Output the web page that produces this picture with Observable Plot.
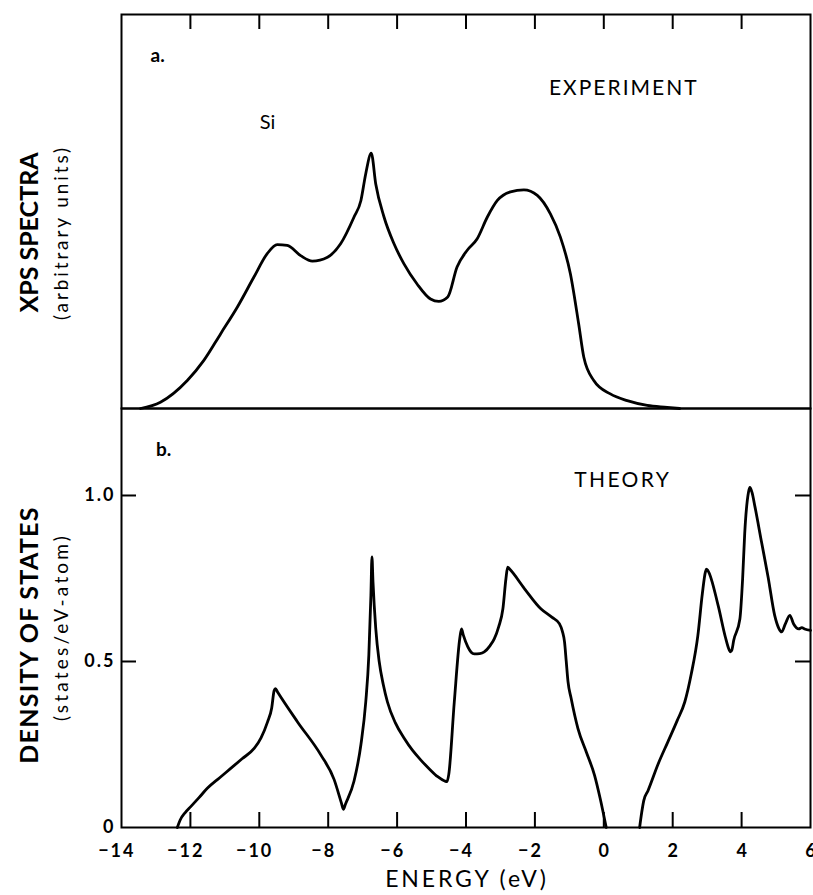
<!DOCTYPE html>
<html>
<head>
<meta charset="utf-8">
<script src="https://cdn.jsdelivr.net/npm/d3@7"></script>
<script src="https://cdn.jsdelivr.net/npm/@observablehq/plot@0.6"></script>
<style>
  html, body { margin: 0; padding: 0; background: #fff; }
  #chart { width: 813px; }
  #chart svg { display: block; }
</style>
</head>
<body>
<div id="chart"></div>
<script>
// ---- Data ----
const xTicksTwoDigitNeg = [-14, -12, -10];
const xTicksOneDigitNeg = [-8, -6, -4, -2];
const xTicksNonNeg = [0, 2, 4, 6];
const xInnerTicks = [-12, -10, -8, -6, -4, -2, 0, 2, 4];
const yTickValues = [0, 0.5, 1.0];
const yInnerTicks = [0.5, 1.0];

// (a) XPS experiment, arbitrary units (0..100 of panel height)
const xpsEnergy = [-13.45, -12.87, -12.09, -11.61, -11.12, -10.64, -10.16, -9.77, -9.48, -9.19,
  -8.80, -8.46, -8.02, -7.64, -7.25, -7.05, -6.91, -6.75, -6.62, -6.38, -6.09, -5.80, -5.42,
  -5.03, -4.79, -4.53, -4.26, -3.97, -3.68, -3.38, -3.09, -2.71, -2.32, -1.93, -1.55, -1.26,
  -0.97, -0.73, -0.58, -0.29, 0.19, 0.68, 1.26, 1.84, 2.2];
const xpsIntensity = [0, 1.6, 7.1, 12.2, 19.0, 25.7, 33.3, 39.3, 41.6, 41.4,
  38.8, 37.4, 38.4, 41.8, 48.6, 52.8, 59.6, 64.8, 57.0, 48.6, 41.8, 36.7, 31.6,
  27.8, 27.2, 28.3, 35.9, 40.1, 43.0, 48.6, 52.8, 55.0, 55.5, 54.1, 49.4, 43.5,
  34.2, 21.5, 13.0, 7.1, 3.7, 2.0, 0.8, 0.3, 0];

// (b) Theory, density of states (states/eV-atom) — valence band
const dosValenceEnergy = [-12.38, -12.3, -12.15, -11.99, -11.75, -11.51, -11.15, -10.83, -10.5,
  -10.15, -9.95, -9.76, -9.64, -9.57, -9.53, -9.47, -8.89, -8.21, -7.83, -7.62, -7.56, -7.50,
  -7.25, -7.05, -6.91, -6.82, -6.76, -6.73, -6.70, -6.62, -6.52, -6.40, -6.28, -6.05, -5.79,
  -5.55, -5.31, -5.05, -4.82, -4.62, -4.55, -4.50, -4.34, -4.18, -4.13, -4.08, -3.95, -3.85,
  -3.76, -3.60, -3.47, -3.30, -3.18, -3.05, -2.93, -2.84, -2.79, -2.74, -2.30, -1.82, -1.50,
  -1.29, -1.20, -1.14, -1.09, -1.04, -0.95, -0.75, -0.50, -0.27, -0.10, 0.07];
const dosValence = [0, 0.022, 0.045, 0.063, 0.09, 0.118, 0.15, 0.178, 0.207,
  0.238, 0.27, 0.318, 0.36, 0.412, 0.418, 0.408, 0.318, 0.218, 0.145, 0.075, 0.055, 0.07,
  0.14, 0.25, 0.378, 0.52, 0.70, 0.815, 0.74, 0.60, 0.50, 0.43, 0.378, 0.315, 0.268,
  0.232, 0.203, 0.175, 0.153, 0.14, 0.138, 0.16, 0.378, 0.57, 0.598, 0.58, 0.545, 0.528,
  0.523, 0.524, 0.529, 0.548, 0.568, 0.605, 0.658, 0.75, 0.784, 0.779, 0.719, 0.658, 0.633,
  0.614, 0.59, 0.559, 0.50, 0.44, 0.39, 0.298, 0.225, 0.158, 0.085, 0];
// conduction band
const dosConductionEnergy = [1.04, 1.10, 1.16, 1.28, 1.58, 1.86, 2.13, 2.35, 2.54, 2.73, 2.86,
  2.95, 2.98, 3.02, 3.32, 3.53, 3.64, 3.68, 3.72, 3.77, 3.95, 4.03, 4.09, 4.20, 4.24, 4.30,
  4.39, 4.58, 4.77, 4.96, 5.08, 5.16, 5.27, 5.40, 5.51, 5.66, 5.75, 5.83, 6.0];
const dosConduction = [0, 0.045, 0.081, 0.11, 0.192, 0.258, 0.322, 0.378, 0.463, 0.578, 0.704,
  0.77, 0.778, 0.774, 0.668, 0.573, 0.535, 0.529, 0.535, 0.563, 0.628, 0.75, 0.885, 1.01, 1.024, 1.01,
  0.965, 0.859, 0.754, 0.639, 0.60, 0.589, 0.613, 0.639, 0.613, 0.598, 0.602, 0.598, 0.594];

// ---- Tables built from the arrays ----
const xpsData = xpsEnergy.map((e, i) => ({energy: e, value: xpsIntensity[i]}));
const valData = dosValenceEnergy.map((e, i) => ({energy: e, value: dosValence[i]}));
const conData = dosConductionEnergy.map((e, i) => ({energy: e, value: dosConduction[i]}));

const FONT = "Lato, 'DejaVu Sans', sans-serif";
const W = 813, ML = 121, MR = 3;
const LINE_W = 2.8;
const TICK = 15;
const TICK_W = 2;
const HA = 408, MTA = 14;             // panel a: svg height, top margin
const HB = 487, MBB = 68;             // panel b: svg height, bottom margin
const frameHA = HA - MTA;             // 394
const frameHB = HB - MBB;             // 419
const frameW = W - ML - MR;           // 689

const panelA = Plot.plot({
  width: W, height: HA,
  marginLeft: ML, marginRight: MR, marginTop: MTA, marginBottom: 0,
  style: {fontFamily: FONT, background: "white", color: "black", overflow: "visible"},
  x: {domain: [-14, 6], axis: null},
  y: {domain: [0, 100], axis: null},
  marks: [
    Plot.line(xpsData, {x: "energy", y: "value", curve: "monotone-x", stroke: "black", strokeWidth: LINE_W}),
    Plot.ruleX(xInnerTicks, {stroke: "black", strokeWidth: TICK_W, insetBottom: frameHA - TICK}),
    Plot.frame({stroke: "black", strokeWidth: 2}),
    Plot.text(["a."], {x: -12.95, y: 89.6, fontSize: 19, fontWeight: "bold"}),
    Plot.text(["Si"], {x: -9.76, y: 72.6, fontSize: 20}),
    Plot.text(["EXPERIMENT"], {x: 0.58, y: 81.2, fontSize: 21}),
    Plot.text(["XPS SPECTRA"], {frameAnchor: "left", rotate: -90, textAnchor: "middle", lineAnchor: "middle",
      dx: -92, dy: 21, fontSize: 25, fontWeight: "bold"}),
    Plot.text(["(arbitrary units)"], {frameAnchor: "left", rotate: -90, textAnchor: "middle", lineAnchor: "middle",
      dx: -60, dy: 21, fontSize: 19})
  ]
});

const tickText = {anchor: "bottom", tickSize: 0, tickPadding: 17, fontSize: 18, fontWeight: "bold", label: null};

const panelB = Plot.plot({
  width: W, height: HB,
  marginLeft: ML, marginRight: MR, marginTop: 0, marginBottom: MBB,
  style: {fontFamily: FONT, background: "white", color: "black", overflow: "visible"},
  x: {domain: [-14, 6]},
  y: {domain: [0, 1.262]},
  marks: [
    Plot.axisX(xTicksTwoDigitNeg, {...tickText, textAnchor: "end", dx: 14}),
    Plot.axisX(xTicksOneDigitNeg, {...tickText, textAnchor: "end", dx: 8}),
    Plot.axisX(xTicksNonNeg, {...tickText, dx: 1}),
    Plot.axisY(yTickValues, {anchor: "left", tickSize: 0, tickPadding: 6, fontSize: 18, fontWeight: "bold", label: null,
      tickFormat: d => d === 0 ? "0" : d.toFixed(1)}),
    Plot.line(valData, {x: "energy", y: "value", stroke: "black", strokeWidth: LINE_W, curve: "monotone-x"}),
    Plot.line(conData, {x: "energy", y: "value", stroke: "black", strokeWidth: LINE_W, curve: "monotone-x"}),
    Plot.ruleX(xInnerTicks, {stroke: "black", strokeWidth: TICK_W, insetTop: frameHB - TICK}),
    Plot.ruleY(yInnerTicks, {stroke: "black", strokeWidth: TICK_W, insetRight: frameW - TICK}),
    Plot.ruleY(yInnerTicks, {stroke: "black", strokeWidth: TICK_W, insetLeft: frameW - TICK}),
    Plot.frame({stroke: "black", strokeWidth: 2}),
    Plot.text(["b."], {x: -12.78, y: 1.136, fontSize: 19, fontWeight: "bold"}),
    Plot.text(["THEORY"], {x: 0.55, y: 1.045, fontSize: 21}),
    Plot.text(["ENERGY (eV)"], {frameAnchor: "bottom", textAnchor: "middle", lineAnchor: "middle",
      dx: 1, dy: 52, fontSize: 23}),
    Plot.text(["DENSITY OF STATES"], {frameAnchor: "left", rotate: -90, textAnchor: "middle", lineAnchor: "middle",
      dx: -92, dy: 17, fontSize: 25, fontWeight: "bold"}),
    Plot.text(["(states/eV-atom)"], {frameAnchor: "left", rotate: -90, textAnchor: "middle", lineAnchor: "middle",
      dx: -60, dy: 9, fontSize: 19})
  ]
});

// letter spacing of the typeset labels (the reference uses a wide geometric face)
const spacing = {
  "EXPERIMENT": 2, "THEORY": 2.4, "ENERGY (eV)": 2.9,
  "DENSITY OF STATES": 1.3, "(arbitrary units)": 2.9, "(states/eV-atom)": 3.2
};
for (const svg of [panelA, panelB]) {
  d3.select(svg).selectAll("text").each(function() {
    const t = this.textContent;
    if (spacing[t] !== undefined) this.setAttribute("letter-spacing", spacing[t]);
    else if (/^[−\-]?\d/.test(t)) this.setAttribute("letter-spacing", 2);
  });
}

const chart = document.getElementById("chart");
chart.appendChild(panelA);
chart.appendChild(panelB);
</script>
</body>
</html>
